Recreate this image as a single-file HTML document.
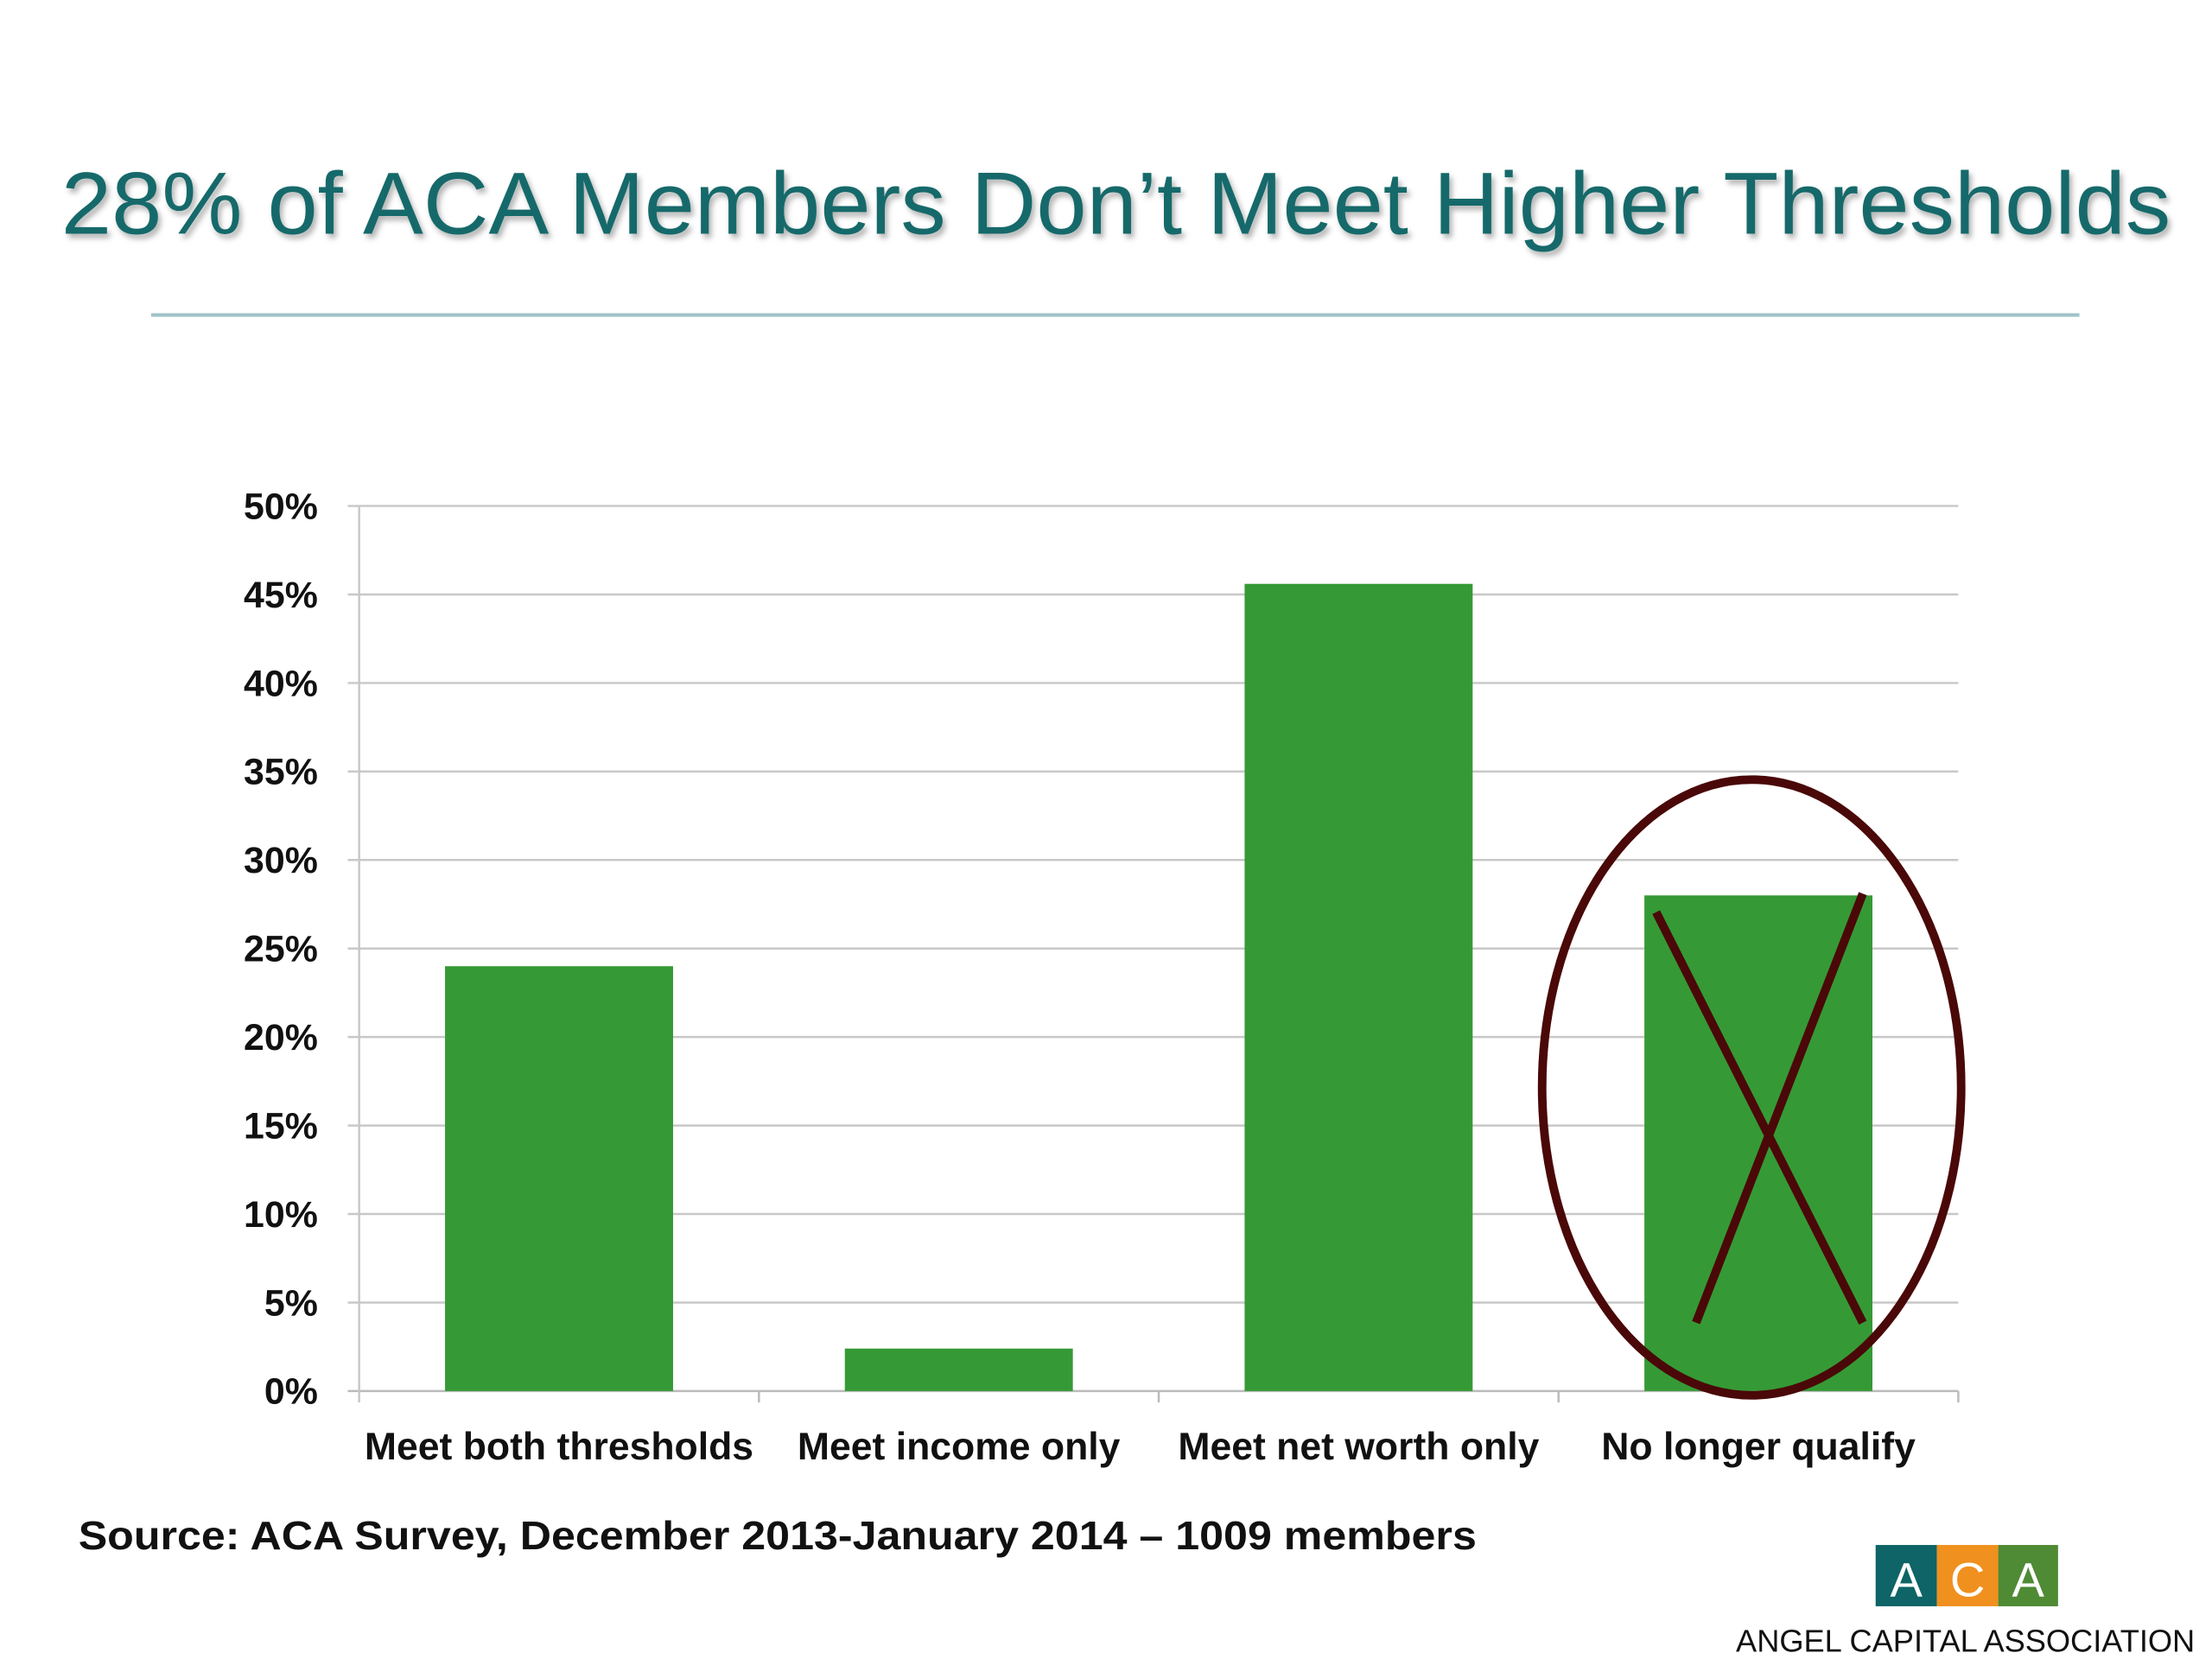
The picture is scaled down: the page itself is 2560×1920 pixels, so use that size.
<!DOCTYPE html>
<html><head><meta charset="utf-8"><style>
html,body{margin:0;padding:0;background:#fff;}
svg{display:block;font-family:"Liberation Sans",sans-serif;}
</style></head><body>
<svg id="chart" width="2560" height="1920" viewBox="0 0 1552 1164" xmlns="http://www.w3.org/2000/svg">
<defs><filter id="sh" x="-5%" y="-20%" width="110%" height="150%"><feDropShadow dx="2" dy="3" stdDeviation="2" flood-color="#000" flood-opacity="0.3"/></filter></defs>
<text x="783" y="164" text-anchor="middle" font-size="62" fill="#19696b" textLength="1480" lengthAdjust="spacingAndGlyphs" filter="url(#sh)">28% of ACA Members Don’t Meet Higher Thresholds</text>
<line x1="106" y1="221" x2="1459" y2="221" stroke="#9fc3c8" stroke-width="2.5"/>
<g id="grid"></g>
<g id="ylabels"></g>
<g id="bars"></g>
<g id="xlabels"></g>
<g stroke="#4a0808" fill="none" stroke-width="6">
<ellipse cx="1229" cy="763" rx="147" ry="216"/>
<line x1="1162" y1="640" x2="1307" y2="928"/>
<line x1="1307" y1="627" x2="1190" y2="928"/>
</g>
<text x="55" y="1087" font-size="28" font-weight="bold" fill="#111" textLength="981" lengthAdjust="spacingAndGlyphs">Source:  ACA Survey, December 2013-January 2014 – 1009 members</text>
<g>
<rect x="1316" y="1084" width="43" height="43" fill="#0e6466"/>
<rect x="1359" y="1084" width="43" height="43" fill="#f0901e"/>
<rect x="1402" y="1084" width="42" height="43" fill="#4f8a34"/>
<text x="1337.5" y="1120" text-anchor="middle" font-size="34" fill="#fff">A</text>
<text x="1380.5" y="1120" text-anchor="middle" font-size="34" fill="#fff">C</text>
<text x="1423" y="1120" text-anchor="middle" font-size="34" fill="#fff">A</text>
<text x="1218" y="1159" font-size="22" fill="#111" textLength="322" lengthAdjust="spacingAndGlyphs">ANGEL CAPITAL ASSOCIATION</text>
</g>
</svg>
<script>
const categories=["Meet both thresholds","Meet income only","Meet net worth only","No longer qualify"];
const values=[24,2.4,45.6,28];
const yTicks=[0,5,10,15,20,25,30,35,40,45,50];
const yTickLabels=["0%","5%","10%","15%","20%","25%","30%","35%","40%","45%","50%"];
const NS="http://www.w3.org/2000/svg";
const X0=252,X1=1374,Y0=976,Y1=355,YMAX=50;
const y=v=>Y0-(v/YMAX)*(Y0-Y1);
const band=(X1-X0)/categories.length;
const xc=i=>X0+band*(i+0.5);
function mk(t,a,p){const e=document.createElementNS(NS,t);for(const k in a)e.setAttribute(k,a[k]);p.appendChild(e);return e;}
const g=document.getElementById('grid'),yl=document.getElementById('ylabels'),b=document.getElementById('bars'),xl=document.getElementById('xlabels');
yTicks.forEach((t,i)=>{
 const l=mk('line',{x1:X0-8,x2:X1,y1:y(t),y2:y(t),stroke:t===0?'#bbb':'#c8c8c8','stroke-width':1.5},g);
 
 
 const tx=mk('text',{x:223,y:y(t)+9,'text-anchor':'end','font-size':26,'font-weight':'bold',fill:'#111'},yl);
 tx.textContent=yTickLabels[i];
 
 
});
const ax=mk('line',{x1:X0,x2:X0,y1:Y1,y2:Y0+8,stroke:'#c8c8c8','stroke-width':1.5},g);


for(let i=1;i<=categories.length;i++){
 const tk=mk('line',{x1:X0+band*i,x2:X0+band*i,y1:Y0,y2:Y0+8,stroke:'#bbb','stroke-width':1.5},g);
 
 
}
const bw=160;
categories.forEach((c,i)=>{
 const r=mk('rect',{x:xc(i)-bw/2,y:y(values[i]),width:bw,height:Y0-y(values[i]),fill:'#359a35'},b);
 
 
 const tx=mk('text',{x:xc(i),y:1024,'text-anchor':'middle','font-size':27,'font-weight':'bold',fill:'#111'},xl);
 tx.textContent=c;
 
 
});
</script>
</body></html>
